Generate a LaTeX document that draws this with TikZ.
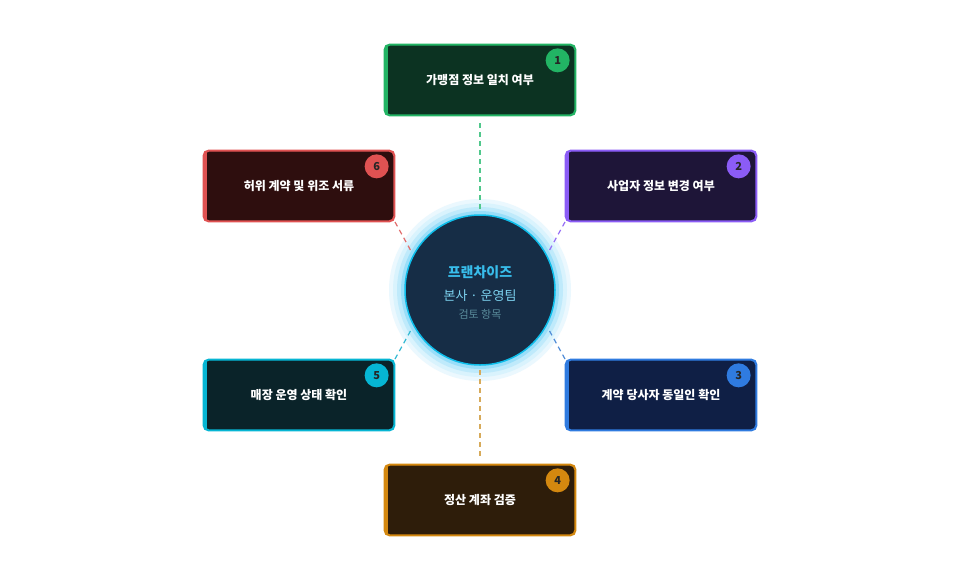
\documentclass[tikz,border=0pt]{standalone}
\usepackage{fontspec}
\setmainfont{Noto Sans CJK KR}
\definecolor{g1}{RGB}{34,180,100}\definecolor{f1}{RGB}{12,51,34}
\definecolor{g2}{RGB}{139,92,246}\definecolor{f2}{RGB}{30,21,56}
\definecolor{g3}{RGB}{47,123,224}\definecolor{f3}{RGB}{15,31,69}
\definecolor{g4}{RGB}{212,136,15}\definecolor{f4}{RGB}{46,29,10}
\definecolor{g5}{RGB}{6,182,212}\definecolor{f5}{RGB}{10,35,41}
\definecolor{g6}{RGB}{224,82,82}\definecolor{f6}{RGB}{46,14,14}
\definecolor{k1}{RGB}{80,200,140}\definecolor{k2}{RGB}{150,110,246}
\definecolor{k3}{RGB}{80,140,215}\definecolor{k4}{RGB}{215,170,90}
\definecolor{k5}{RGB}{50,185,210}\definecolor{k6}{RGB}{225,110,110}
\definecolor{cfill}{RGB}{22,45,70}\definecolor{cdraw}{RGB}{14,190,235}
\definecolor{tt1}{RGB}{56,189,235}\definecolor{tt2}{RGB}{125,211,240}\definecolor{tt3}{RGB}{90,140,155}
\begin{document}
\begin{tikzpicture}[x=1pt,y=-1pt,
 box/.style={draw=#1,line width=1.3pt,rounded corners=5pt,minimum width=190pt,minimum height=70pt,inner sep=0pt,font=\bfseries\fontsize{12}{14}\selectfont,text=white},
 badge/.style={circle,fill=#1,minimum size=24pt,inner sep=0pt,font=\bfseries\fontsize{11}{12}\selectfont,text=black!85},
 conn/.style={draw=#1,line width=1.2pt,dash pattern=on 5pt off 4pt}]
\useasboundingbox (0,0) rectangle (960,560);
\fill[white] (0,0) rectangle (960,560);
\fill[cyan!8] (480,290) circle (91);
\fill[cyan!15] (480,290) circle (87);
\fill[cyan!25] (480,290) circle (83);
\fill[cyan!40] (480,290) circle (79);
\coordinate (c1a) at (480,123); \coordinate (c1b) at (480,212);
\coordinate (c2a) at (565,222); \coordinate (c2b) at (549,251);
\coordinate (c3a) at (565,359); \coordinate (c3b) at (549,330);
\coordinate (c4a) at (480,370); \coordinate (c4b) at (480,458);
\coordinate (c5a) at (395,359); \coordinate (c5b) at (411,330);
\coordinate (c6a) at (395,222); \coordinate (c6b) at (411,251);
\draw[conn=k1] (c1a)--(c1b);
\draw[conn=k2] (c2a)--(c2b);
\draw[conn=k3] (c3a)--(c3b);
\draw[conn=k4] (c4a)--(c4b);
\draw[conn=k5] (c5a)--(c5b);
\draw[conn=k6] (c6a)--(c6b);
\node[circle,minimum size=150pt,fill=cfill,draw=cdraw,line width=1.5pt] (ctr) at (480,290) {};
\node[font=\bfseries\fontsize{14}{16}\selectfont,text=tt1] (t1) at (480,272) {프랜차이즈};
\node[font=\fontsize{13}{15}\selectfont,text=tt2] (t2) at (480,296) {본사 · 운영팀};
\node[font=\fontsize{11}{13}\selectfont,text=tt3] (t3) at (480,314) {검토 항목};
\def\mkbox#1#2#3#4#5#6{%
 \node[box=#4,fill=#5] (b#1) at (#2,#3) {#6};
 \begin{scope}
 \clip[rounded corners=5pt] (b#1.north west) rectangle (b#1.south east);
 \fill[#4] (b#1.north west) rectangle ([xshift=4pt]b#1.south west);
 \end{scope}
 \draw[#4,line width=1.3pt,rounded corners=5pt] (b#1.north west) rectangle (b#1.south east);
 \node[badge=#4] (n#1) at ([xshift=-18pt,yshift=-16pt]b#1.north east) {#1};}
\mkbox{1}{480}{80}{g1}{f1}{가맹점 정보 일치 여부}
\mkbox{2}{661}{186}{g2}{f2}{사업자 정보 변경 여부}
\mkbox{3}{661}{395}{g3}{f3}{계약 당사자 동일인 확인}
\mkbox{4}{480}{500}{g4}{f4}{정산 계좌 검증}
\mkbox{5}{299}{395}{g5}{f5}{매장 운영 상태 확인}
\mkbox{6}{299}{186}{g6}{f6}{허위 계약 및 위조 서류}
\end{tikzpicture}
\end{document}
